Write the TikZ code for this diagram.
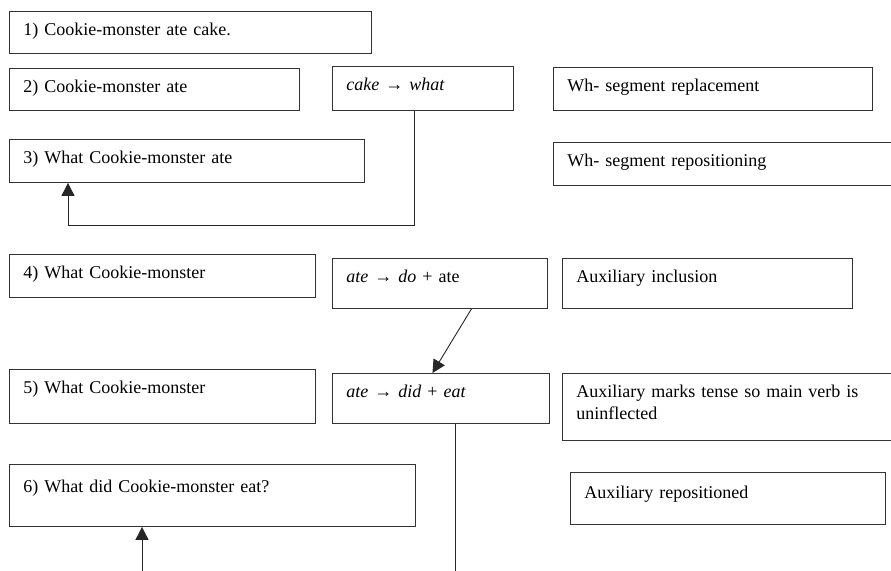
\documentclass[tikz,border=0pt]{standalone}
\usepackage{fontspec}
\setmainfont{Liberation Serif}
\usetikzlibrary{arrows.meta}
\begin{document}
\begin{tikzpicture}[x=1pt,y=-1pt,
  font=\fontsize{18}{21.7}\selectfont,
  stage/.style 2 args={draw=black!80, line width=0.9pt, anchor=north west,
    inner xsep=14pt, inner ysep=0pt, align=left,
    text width=#1-28pt, text height=24pt, text depth=#2-24pt},
  link/.style={draw=black!85, line width=0.9pt},
  head/.style={-{Triangle[width=13pt,length=13pt]}}]
\useasboundingbox (0,0) rectangle (891,570);
%%% The sentence at each step of the derivation
\node[stage={362pt}{42pt}] (s1) at (9,11) {1) Cookie-monster ate cake.};
\node[stage={290pt}{42pt}] (s2) at (9,68) {2) Cookie-monster ate};
\node[stage={355pt}{43pt}] (s3) at (9,139) {3) What Cookie-monster ate};
\node[stage={306pt}{43pt}] (s4) at (9,254) {4) What Cookie-monster};
\node[stage={306pt}{54pt}] (s5) at (9,369) {5) What Cookie-monster};
\node[stage={406pt}{58pt}, text height=28pt] (s6) at (9,464) {6) What did Cookie-monster eat?};
%%% The rewrite rules
\node[stage={181pt}{44pt}] (r1) at (332,66) {\textit{cake} → \textit{what}};
\node[stage={215pt}{50pt}] (r2) at (332,258) {\textit{ate} → \textit{do} + ate};
\node[stage={217pt}{50pt}] (r3) at (332,373) {\textit{ate} → \textit{did} + \textit{eat}};
%%% What each step does
\node[stage={319pt}{43pt}] (d1) at (553,67) {Wh- segment replacement};
\node[stage={342pt}{43pt}] (d2) at (553,142) {Wh- segment repositioning};
\node[stage={290pt}{50pt}] (d3) at (562,258) {Auxiliary inclusion};
\node[stage={333pt}{67pt}] (d4) at (562,373) {Auxiliary marks tense so main verb is uninflected};
\node[stage={315pt}{50pt}, text height=26pt] (d5) at (570,472) {Auxiliary repositioned};
%%% Connectors
\coordinate (bend1) at (414,225);
\coordinate (bend2) at (68,225);
\draw[link,head] (r1.south -| bend1) -- (bend1) -- (bend2) -- (s3.south -| bend2);
\draw[link,head] ([xshift=31.5pt]r2.south) -- ([xshift=-8.5pt]r3.north);
\coordinate (cut1) at (455,572);
\draw[link] (r3.south -| cut1) -- (cut1);
\coordinate (cut2) at (142,572);
\draw[link,head] (cut2) -- (s6.south -| cut2);
\end{tikzpicture}
\end{document}
